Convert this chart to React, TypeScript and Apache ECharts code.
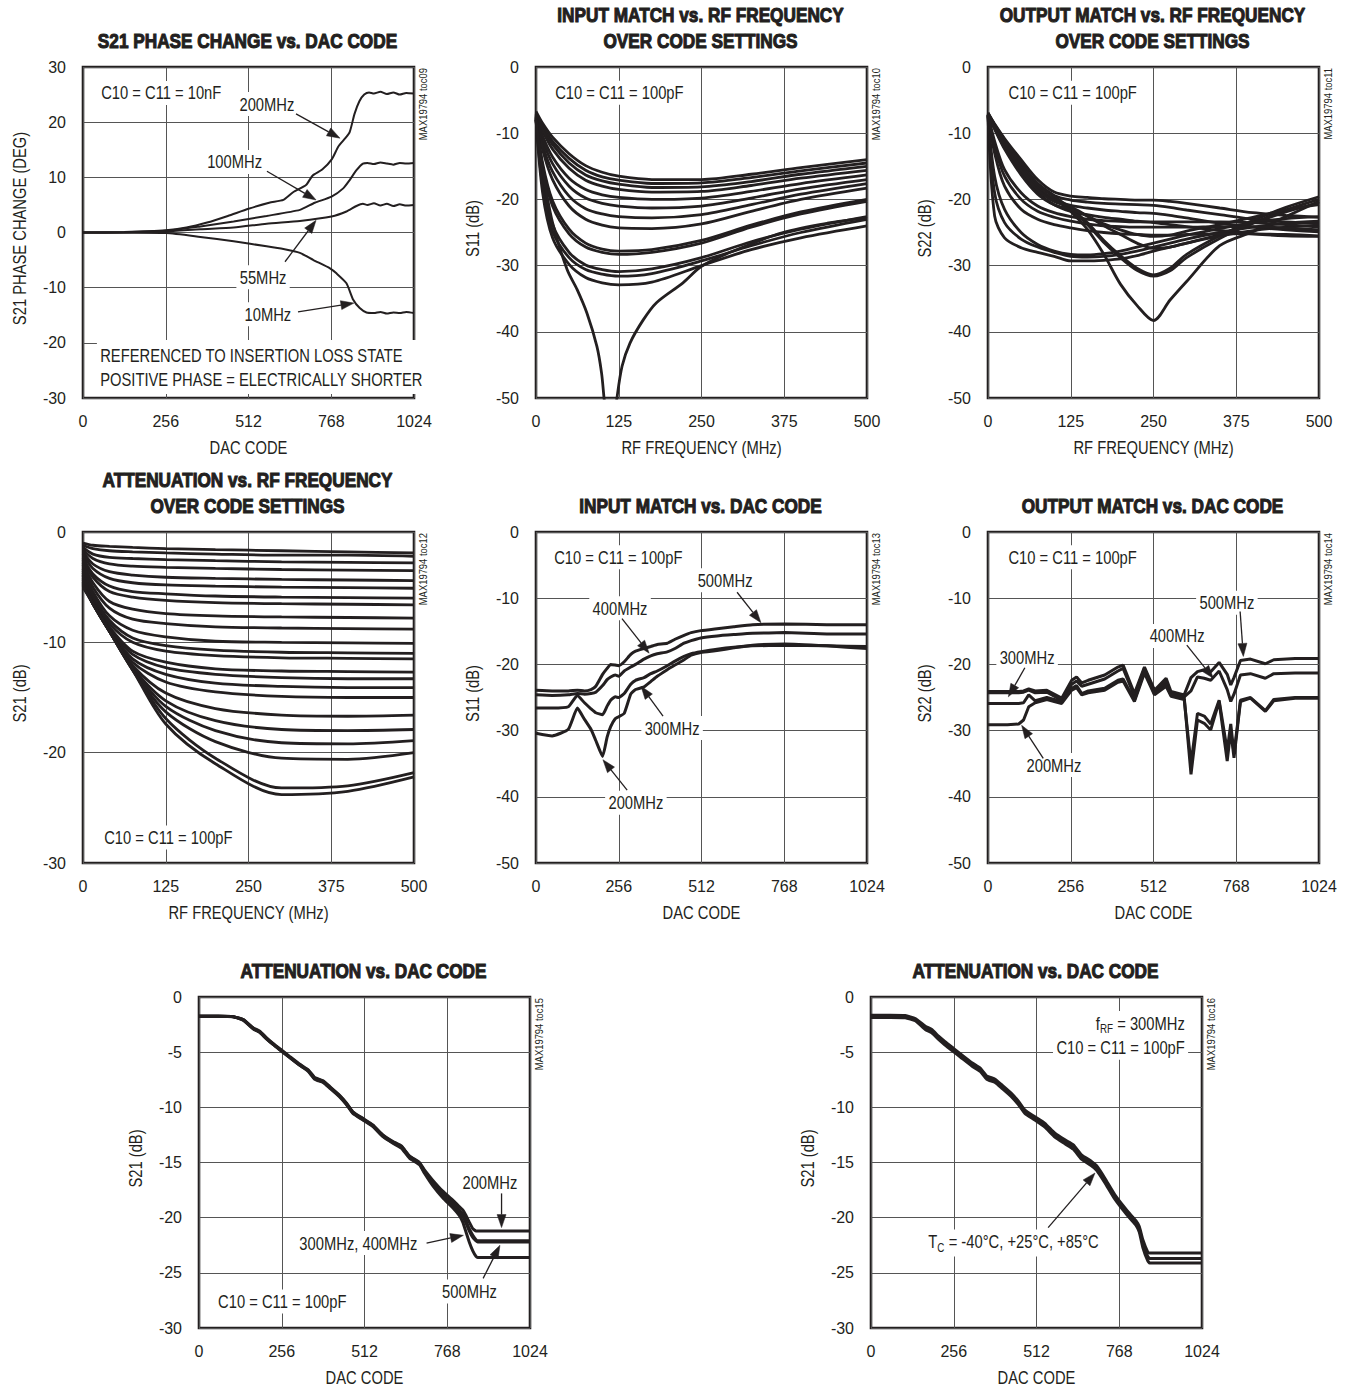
import React, { useEffect, useRef } from "react";
import * as echarts from "echarts";

const INK = "#231f20";
const GRIDLINE = "#555555";
const FONT = "'Liberation Sans', Arial, Helvetica, sans-serif";
const NARROW = 0.82; // horizontal compression to mimic a condensed face

// ---------------- Panel 1: S21 phase change vs DAC code ----------------
const P1_X_200 = [0, 128, 256, 320, 384, 448, 512, 576, 620, 650, 690, 710, 740, 770, 790, 810, 825, 840, 855, 870, 885, 900, 920, 940, 960, 980, 1000, 1024];
const P1_Y_200 = [0, 0.1, 0.4, 0.9, 1.8, 3.0, 4.3, 5.4, 5.9, 7.3, 8.6, 10.3, 11.4, 13.3, 15.6, 17.0, 18.2, 21.5, 23.8, 25.0, 25.4, 25.2, 25.5, 25.1, 25.4, 25.0, 25.3, 25.2];
const P1_X_100 = [0, 128, 256, 363, 466, 568, 671, 717, 769, 805, 825, 846, 866, 880, 900, 920, 940, 960, 980, 1000, 1024];
const P1_Y_100 = [0, 0.05, 0.3, 1.1, 2.0, 3.0, 4.1, 5.4, 6.5, 8.0, 9.5, 11.3, 12.5, 12.6, 12.4, 12.7, 12.5, 12.3, 12.6, 12.5, 12.6];
const P1_X_55 = [0, 128, 256, 363, 466, 568, 671, 769, 815, 846, 866, 880, 900, 920, 940, 960, 980, 1000, 1024];
const P1_Y_55 = [0, 0.05, 0.2, 0.6, 0.9, 1.6, 2.1, 2.9, 3.8, 4.8, 5.2, 5.0, 5.3, 4.9, 5.2, 4.8, 5.1, 4.9, 5.0];
const P1_X_10 = [0, 128, 257, 363, 466, 568, 620, 671, 713, 764, 784, 815, 836, 856, 877, 900, 920, 940, 960, 980, 1000, 1024];
const P1_Y_10 = [0, -0.05, -0.1, -0.8, -1.6, -2.5, -3.0, -3.7, -5.0, -6.5, -7.4, -9.2, -12.2, -13.7, -14.5, -14.6, -14.4, -14.7, -14.5, -14.6, -14.4, -14.6];

// ---------------- Panel 2: S11 vs RF frequency ----------------
const P2_F = [0, 10, 25, 50, 75, 100, 125, 175, 250, 325, 400, 500];
const P2_C1 = [-6.7, -8.5, -10.6, -13.1, -14.9, -15.9, -16.5, -17.0, -17.0, -16.2, -15.2, -14.0];
const P2_C2 = [-6.9, -8.9, -11.2, -13.8, -15.6, -16.6, -17.1, -17.6, -17.5, -16.7, -15.7, -14.5];
const P2_C3 = [-7.0, -9.2, -11.7, -14.5, -16.3, -17.2, -17.7, -18.2, -18.1, -17.3, -16.2, -15.0];
const P2_C4 = [-7.1, -9.6, -12.4, -15.3, -17.1, -18.0, -18.5, -18.9, -18.8, -17.9, -16.8, -15.6];
const P2_C5 = [-7.2, -10.4, -13.6, -16.8, -18.5, -19.3, -19.7, -20.0, -19.8, -18.8, -17.6, -16.3];
const P2_C6 = [-7.3, -11.0, -14.6, -18.0, -19.8, -20.6, -21.0, -21.3, -21.0, -19.8, -18.4, -17.0];
const P2_C7 = [-7.4, -11.8, -15.8, -19.5, -21.4, -22.2, -22.6, -22.8, -22.3, -20.8, -19.2, -17.6];
const P2_C8 = [-7.5, -12.5, -17.0, -21.0, -23.0, -23.9, -24.3, -24.4, -23.7, -21.8, -20.0, -18.3];
const P2_C9 = [-7.6, -14.5, -20.2, -24.5, -26.6, -27.5, -27.8, -27.6, -26.2, -23.9, -21.9, -20.0];
const P2_C10 = [-7.7, -15.0, -21.0, -25.2, -27.2, -28.0, -28.3, -28.0, -26.6, -24.2, -22.2, -20.3];
const P2_C11 = [-7.8, -17.0, -23.8, -28.0, -29.9, -30.6, -30.9, -30.5, -28.8, -26.4, -24.5, -22.6];
const P2_C12 = [-7.9, -18.0, -24.8, -28.8, -30.6, -31.3, -31.6, -31.2, -29.3, -27.0, -25.0, -23.0];
const P2_C13 = [-8.0, -19.0, -25.8, -29.8, -31.8, -32.6, -32.9, -32.5, -30.0, -27.6, -25.8, -24.0];
const P2_NOTCH_F = [0, 10, 25, 47, 62, 77, 92, 99, 103, 112, 122, 130, 142, 162, 182, 222, 250, 298, 373, 440, 500];
const P2_NOTCH = [-8.0, -15.5, -23.5, -30.6, -33.6, -37.2, -42.2, -46.2, -50.2, -58.0, -50.2, -45.2, -41.7, -38.2, -35.6, -32.6, -30.1, -27.8, -25.0, -23.6, -22.8];

// ---------------- Panel 3: S22 vs RF frequency ----------------
const P3_F = [0, 10, 25, 50, 75, 100, 125, 150, 175, 200, 225, 250, 275, 300, 350, 400, 450, 500];
const P3_A1 = [-7.0, -8.6, -10.8, -14.0, -17.0, -18.9, -19.5, -19.7, -19.9, -20.0, -20.1, -20.1, -20.3, -20.6, -21.3, -22.0, -22.4, -22.7];
const P3_A2 = [-7.1, -8.8, -11.2, -14.6, -17.6, -19.4, -20.1, -20.4, -20.6, -20.7, -20.8, -20.9, -21.2, -21.6, -22.3, -23.0, -23.4, -23.6];
const P3_A3 = [-7.2, -9.0, -11.6, -15.2, -18.2, -20.0, -20.9, -21.3, -21.6, -21.8, -22.0, -22.1, -22.4, -22.8, -23.6, -24.2, -24.6, -24.9];
const P3_A4 = [-7.3, -9.3, -12.2, -16.0, -19.0, -20.8, -21.8, -22.3, -22.7, -23.0, -23.3, -23.5, -23.8, -24.1, -24.7, -25.2, -25.5, -25.6];
const P3_B1 = [-6.9, -8.7, -11.0, -14.5, -17.6, -19.5, -21.8, -24.5, -28.3, -32.8, -36.0, -38.3, -35.2, -32.4, -27.0, -24.9, -22.6, -20.3];
const P3_B2 = [-7.0, -8.8, -11.3, -14.8, -17.8, -19.6, -21.3, -23.5, -26.2, -28.5, -30.4, -31.4, -30.4, -28.3, -25.5, -23.2, -21.2, -19.6];
const P3_B3 = [-7.1, -9.0, -11.6, -15.2, -18.2, -20.0, -21.6, -23.8, -26.5, -28.8, -30.7, -31.6, -30.8, -28.8, -25.9, -23.6, -21.6, -20.0];
const P3_B4 = [-7.1, -9.1, -11.9, -15.6, -18.6, -20.3, -21.1, -22.5, -24.0, -25.3, -26.6, -27.4, -27.2, -26.6, -25.3, -23.6, -21.9, -20.5];
const P3_B5 = [-7.2, -9.4, -12.4, -16.3, -19.2, -20.8, -21.5, -22.5, -23.7, -24.6, -25.3, -25.6, -25.4, -24.8, -23.8, -22.7, -21.6, -20.8];
const P3_C1 = [-7.5, -22.5, -25.8, -27.3, -28.0, -28.6, -29.3, -29.3, -29.2, -29.0, -28.5, -27.8, -27.2, -26.6, -25.5, -24.7, -24.2, -23.9];
const P3_C2 = [-7.4, -19.0, -23.5, -26.0, -27.2, -28.0, -28.6, -28.7, -28.6, -28.3, -27.8, -27.2, -26.6, -26.0, -25.0, -24.2, -23.6, -23.3];
const P3_C3 = [-7.3, -16.5, -21.5, -25.0, -26.8, -27.8, -28.3, -28.4, -28.2, -27.8, -27.2, -26.6, -26.0, -25.4, -24.4, -23.5, -22.9, -22.6];
const P3_M1 = [-7.3, -13.0, -18.0, -21.5, -23.0, -23.8, -24.3, -24.7, -25.0, -25.2, -25.3, -25.4, -25.4, -25.3, -25.2, -25.2, -25.3, -25.5];
const P3_M2 = [-7.2, -12.0, -16.5, -20.0, -21.8, -22.7, -23.3, -23.7, -24.0, -24.1, -24.2, -24.2, -24.2, -24.2, -24.1, -24.1, -24.3, -24.6];
const P3_M3 = [-7.2, -11.2, -15.5, -19.0, -21.0, -22.0, -22.6, -23.0, -23.2, -23.3, -23.4, -23.4, -23.4, -23.4, -23.4, -23.5, -23.8, -24.2];

// ---------------- Panel 4: S21 vs RF frequency over code ----------------
const P4_F = [0, 15, 40, 75, 125, 200, 300, 400, 500];
const P4_A1 = [-1.0, -1.2, -1.3, -1.4, -1.5, -1.6, -1.7, -1.8, -1.9];
const P4_A2 = [-1.2, -1.5, -1.7, -1.8, -1.9, -2.0, -2.1, -2.1, -2.2];
const P4_A3 = [-1.4, -2.0, -2.3, -2.4, -2.5, -2.6, -2.7, -2.75, -2.8];
const P4_A4 = [-1.6, -2.4, -2.9, -3.1, -3.2, -3.3, -3.4, -3.45, -3.5];
const P4_A5 = [-1.8, -2.9, -3.6, -3.9, -4.1, -4.2, -4.3, -4.35, -4.4];
const P4_A6 = [-2.0, -3.3, -4.2, -4.6, -4.8, -4.9, -5.0, -5.05, -5.1];
const P4_A7 = [-2.3, -3.8, -4.9, -5.4, -5.6, -5.8, -5.9, -5.95, -6.0];
const P4_A8 = [-2.5, -4.1, -5.4, -5.9, -6.2, -6.4, -6.5, -6.55, -6.6];
const P4_A9 = [-2.8, -4.6, -6.3, -7.0, -7.4, -7.6, -7.7, -7.75, -7.8];
const P4_A10 = [-3.0, -5.0, -6.9, -7.9, -8.3, -8.6, -8.7, -8.75, -8.8];
const P4_A11 = [-3.3, -5.4, -7.6, -8.9, -9.5, -9.9, -10.0, -10.05, -10.1];
const P4_A12 = [-3.5, -5.7, -8.0, -9.6, -10.3, -10.7, -10.9, -10.95, -11.0];
const P4_A13 = [-3.7, -5.9, -8.3, -10.0, -10.8, -11.2, -11.4, -11.45, -11.5];
const P4_A14 = [-3.9, -6.1, -8.6, -10.8, -11.8, -12.4, -12.6, -12.65, -12.7];
const P4_A15 = [-4.0, -6.2, -8.7, -11.1, -12.3, -12.9, -13.2, -13.3, -13.3];
const P4_A16 = [-4.2, -6.3, -8.8, -11.5, -12.9, -13.7, -14.0, -14.1, -14.1];
const P4_A17 = [-4.3, -6.4, -8.9, -11.8, -13.6, -14.5, -14.9, -15.0, -15.0];
const P4_A18 = [-4.5, -6.5, -9.0, -12.1, -14.6, -16.0, -16.6, -16.7, -16.6];
const P4_A19 = [-4.6, -6.5, -9.0, -12.3, -15.3, -17.1, -17.9, -18.0, -17.9];
const P4_A20 = [-4.7, -6.5, -9.0, -12.4, -15.8, -18.0, -19.1, -19.2, -18.9];
const P4_A21 = [-4.8, -6.5, -9.0, -12.5, -16.3, -19.0, -20.5, -20.6, -20.0];
const P4_A22 = [-4.9, -6.5, -9.0, -12.5, -16.9, -20.5, -23.2, -23.0, -21.8];
const P4_A23 = [-5.0, -6.5, -9.0, -12.5, -17.4, -21.0, -23.8, -23.5, -22.2];

// ---------------- Panel 5: S11 vs DAC code ----------------
const P5_CODE = [0, 50, 100, 128, 150, 170, 185, 206, 220, 231, 245, 256, 273, 293, 308, 334, 355, 375, 406, 430, 458, 480, 510, 560, 612, 670, 770, 900, 1024];
const P5_500 = [-23.9, -24.0, -24.0, -23.9, -24.0, -23.8, -23.3, -21.5, -20.6, -20.0, -20.1, -20.2, -19.6, -18.5, -18.0, -17.6, -17.3, -17.0, -16.8, -16.2, -15.6, -15.2, -14.9, -14.6, -14.3, -14.0, -13.9, -14.0, -14.0];
const P5_400 = [-24.6, -24.7, -24.6, -24.4, -24.5, -24.4, -24.2, -23.2, -22.3, -21.9, -21.6, -21.8, -21.0, -20.4, -20.0, -19.2, -18.7, -18.4, -18.1, -17.6, -16.8, -16.4, -16.0, -15.7, -15.5, -15.3, -15.2, -15.4, -15.4];
const P5_300 = [-26.6, -26.6, -26.4, -24.7, -25.8, -26.7, -27.3, -27.6, -26.3, -25.4, -24.9, -25.0, -24.4, -23.0, -22.4, -22.0, -21.4, -21.0, -20.2, -19.5, -18.8, -18.4, -18.1, -17.7, -17.4, -17.2, -17.1, -17.2, -17.3];
const P5_200 = [-30.4, -30.8, -29.8, -26.6, -28.3, -29.8, -31.5, -33.9, -31.0, -29.4, -28.2, -27.9, -27.4, -24.5, -23.8, -23.4, -22.6, -21.8, -20.8, -20.1, -19.3, -18.6, -18.2, -17.9, -17.5, -17.1, -16.9, -17.2, -17.6];

// ---------------- Panel 6: S22 vs DAC code ----------------
const P6_CODE = [0, 60, 95, 110, 126, 146, 182, 228, 259, 274, 290, 310, 361, 402, 418, 453, 484, 515, 551, 566, 607, 628, 648, 669, 689, 715, 740, 751, 761, 781, 812, 858, 884, 950, 1024];
const P6_500 = [-24.1, -24.1, -24.1, -24.0, -23.7, -24.0, -23.9, -25.1, -22.4, -21.9, -22.8, -22.4, -21.6, -20.4, -20.1, -24.4, -20.4, -23.9, -22.1, -24.1, -24.6, -22.0, -21.1, -20.8, -21.1, -19.7, -21.5, -23.1, -22.0, -19.4, -19.2, -19.9, -19.3, -19.1, -19.1];
const P6_400 = [-24.3, -24.3, -24.3, -24.2, -23.9, -24.3, -24.2, -25.4, -23.0, -22.5, -23.3, -23.0, -22.2, -21.0, -20.6, -24.8, -20.6, -24.2, -22.6, -24.4, -24.9, -24.0, -21.9, -22.1, -22.4, -21.0, -23.8, -25.6, -24.5, -21.6, -21.4, -22.1, -21.4, -21.3, -21.3];
const P6_300 = [-25.9, -25.9, -25.9, -25.8, -24.6, -25.5, -25.0, -25.6, -23.6, -23.2, -24.4, -24.0, -23.6, -22.4, -22.2, -25.4, -21.0, -24.4, -23.0, -24.6, -25.0, -36.6, -28.4, -28.9, -29.9, -25.6, -34.6, -30.0, -34.1, -25.6, -25.1, -27.1, -25.5, -25.1, -25.1];
const P6_200 = [-29.1, -29.1, -29.0, -28.4, -26.4, -25.8, -25.3, -25.9, -23.9, -23.5, -24.6, -24.3, -23.9, -22.7, -22.5, -25.6, -21.3, -24.6, -23.3, -24.8, -25.3, -35.0, -27.4, -27.8, -29.0, -25.4, -33.0, -29.0, -33.5, -25.4, -25.0, -27.0, -25.3, -25.0, -25.0];

// ---------------- Panel 7: S21 vs DAC code (frequency) ----------------
const P7_CODE = [0, 60, 106, 137, 168, 188, 209, 229, 255, 281, 312, 338, 358, 384, 404, 435, 456, 476, 507, 538, 569, 600, 626, 651, 682, 698, 723, 754, 785, 805, 816, 826, 836, 847, 857, 862, 880, 920, 960, 1000, 1024];
const P7_200 = [-1.75, -1.75, -1.78, -2.05, -2.8, -3.1, -3.7, -4.2, -4.8, -5.4, -6.1, -6.6, -7.3, -7.6, -8.1, -8.9, -9.6, -10.4, -11.0, -11.6, -12.5, -13.1, -13.5, -14.4, -15.0, -15.7, -16.6, -17.6, -18.4, -19.0, -19.3, -19.8, -20.4, -21.0, -21.2, -21.2, -21.2, -21.2, -21.2, -21.2, -21.2];
const P7_300 = [-1.75, -1.75, -1.78, -2.05, -2.85, -3.15, -3.75, -4.25, -4.85, -5.45, -6.15, -6.65, -7.35, -7.65, -8.15, -8.95, -9.65, -10.45, -11.05, -11.65, -12.55, -13.15, -13.55, -14.45, -15.05, -15.8, -16.8, -17.8, -18.6, -19.3, -19.7, -20.3, -21.0, -21.6, -22.0, -22.1, -22.1, -22.1, -22.1, -22.1, -22.1];
const P7_400 = [-1.75, -1.75, -1.78, -2.1, -2.85, -3.2, -3.8, -4.3, -4.9, -5.5, -6.2, -6.7, -7.4, -7.7, -8.2, -9.0, -9.7, -10.5, -11.1, -11.7, -12.6, -13.2, -13.6, -14.5, -15.1, -15.9, -16.9, -17.9, -18.8, -19.5, -19.9, -20.5, -21.2, -21.8, -22.1, -22.2, -22.2, -22.2, -22.2, -22.2, -22.2];
const P7_500 = [-1.75, -1.75, -1.8, -2.1, -2.9, -3.2, -3.8, -4.3, -4.9, -5.5, -6.2, -6.75, -7.45, -7.75, -8.25, -9.05, -9.75, -10.55, -11.15, -11.75, -12.65, -13.25, -13.7, -14.6, -15.2, -16.0, -17.1, -18.2, -19.1, -19.8, -20.4, -21.3, -22.2, -23.0, -23.5, -23.6, -23.6, -23.6, -23.6, -23.6, -23.6];

// ---------------- Panel 8: S21 vs DAC code (temperature) ----------------
const P8_CODE = [0, 60, 106, 137, 168, 188, 209, 229, 255, 281, 312, 338, 358, 384, 404, 435, 456, 476, 507, 538, 569, 600, 626, 651, 682, 698, 723, 754, 785, 805, 820, 830, 841, 856, 862, 880, 920, 960, 1000, 1024];
const P8_M40 = [-1.65, -1.65, -1.68, -1.95, -2.65, -2.95, -3.55, -4.05, -4.65, -5.25, -5.95, -6.45, -7.15, -7.45, -7.95, -8.75, -9.45, -10.25, -10.85, -11.45, -12.35, -12.95, -13.4, -14.3, -14.9, -15.3, -16.4, -17.9, -19.1, -19.8, -20.3, -20.8, -22.0, -23.1, -23.2, -23.2, -23.2, -23.2, -23.2, -23.2];
const P8_25 = [-1.75, -1.75, -1.78, -2.05, -2.8, -3.1, -3.7, -4.2, -4.8, -5.4, -6.1, -6.6, -7.3, -7.6, -8.1, -8.9, -9.6, -10.4, -11.0, -11.6, -12.5, -13.1, -13.6, -14.5, -15.1, -15.5, -16.6, -18.1, -19.3, -20.0, -20.5, -21.0, -22.3, -23.5, -23.7, -23.7, -23.7, -23.7, -23.7, -23.7];
const P8_85 = [-1.85, -1.85, -1.88, -2.15, -2.95, -3.25, -3.85, -4.35, -4.95, -5.55, -6.25, -6.75, -7.45, -7.75, -8.25, -9.05, -9.75, -10.55, -11.15, -11.8, -12.7, -13.3, -13.8, -14.7, -15.3, -15.7, -16.8, -18.3, -19.5, -20.2, -20.7, -21.3, -22.7, -23.9, -24.1, -24.1, -24.1, -24.1, -24.1, -24.1];

// ---------------- Layout ----------------
const GRIDS = [
  { left: 83, top: 67, width: 331, height: 331 },
  { left: 536, top: 67, width: 331, height: 331 },
  { left: 988, top: 67, width: 331, height: 331 },
  { left: 83, top: 532, width: 331, height: 331 },
  { left: 536, top: 532, width: 331, height: 331 },
  { left: 988, top: 532, width: 331, height: 331 },
  { left: 199, top: 997, width: 331, height: 331 },
  { left: 871, top: 997, width: 331, height: 331 },
];

const X_DAC = { min: 0, max: 1024, interval: 256 };
const X_RF = { min: 0, max: 500, interval: 125 };

const PANELS = [
  { x: X_DAC, y: { min: -30, max: 30, interval: 10 }, xName: "DAC CODE", yName: "S21 PHASE CHANGE (DEG)", title: ["S21 PHASE CHANGE vs. DAC CODE"], toc: "MAX19794 toc09" },
  { x: X_RF, y: { min: -50, max: 0, interval: 10 }, xName: "RF FREQUENCY (MHz)", yName: "S11 (dB)", title: ["INPUT MATCH vs. RF FREQUENCY", "OVER CODE SETTINGS"], toc: "MAX19794 toc10" },
  { x: X_RF, y: { min: -50, max: 0, interval: 10 }, xName: "RF FREQUENCY (MHz)", yName: "S22 (dB)", title: ["OUTPUT MATCH vs. RF FREQUENCY", "OVER CODE SETTINGS"], toc: "MAX19794 toc11" },
  { x: X_RF, y: { min: -30, max: 0, interval: 10 }, xName: "RF FREQUENCY (MHz)", yName: "S21 (dB)", title: ["ATTENUATION vs. RF FREQUENCY", "OVER CODE SETTINGS"], toc: "MAX19794 toc12" },
  { x: X_DAC, y: { min: -50, max: 0, interval: 10 }, xName: "DAC CODE", yName: "S11 (dB)", title: ["INPUT MATCH vs. DAC CODE"], toc: "MAX19794 toc13" },
  { x: X_DAC, y: { min: -50, max: 0, interval: 10 }, xName: "DAC CODE", yName: "S22 (dB)", title: ["OUTPUT MATCH vs. DAC CODE"], toc: "MAX19794 toc14" },
  { x: X_DAC, y: { min: -30, max: 0, interval: 5 }, xName: "DAC CODE", yName: "S21 (dB)", title: ["ATTENUATION vs. DAC CODE"], toc: "MAX19794 toc15" },
  { x: X_DAC, y: { min: -30, max: 0, interval: 5 }, xName: "DAC CODE", yName: "S21 (dB)", title: ["ATTENUATION vs. DAC CODE"], toc: "MAX19794 toc16" },
];

const LINE_W = [2, 2.8, 2.8, 2.8, 3, 3, 3, 3];
const SMOOTH = [0.2, 0.3, 0.3, 0.3, 0.15, 0, 0.15, 0.15];

type SDef = { g: number; name: string; xs: number[]; ys: number[] };
const SERIES: SDef[] = [
  { g: 0, name: "200MHz", xs: P1_X_200, ys: P1_Y_200 },
  { g: 0, name: "100MHz", xs: P1_X_100, ys: P1_Y_100 },
  { g: 0, name: "55MHz", xs: P1_X_55, ys: P1_Y_55 },
  { g: 0, name: "10MHz", xs: P1_X_10, ys: P1_Y_10 },
  ...[P2_C1, P2_C2, P2_C3, P2_C4, P2_C5, P2_C6, P2_C7, P2_C8, P2_C9, P2_C10, P2_C11, P2_C12, P2_C13].map((ys, i) => ({ g: 1, name: "S11 code " + (i + 1), xs: P2_F, ys })),
  { g: 1, name: "S11 code 14", xs: P2_NOTCH_F, ys: P2_NOTCH },
  ...[P3_A1, P3_A2, P3_A3, P3_A4, P3_B1, P3_B2, P3_B3, P3_B4, P3_B5, P3_C1, P3_C2, P3_C3, P3_M1, P3_M2, P3_M3].map((ys, i) => ({ g: 2, name: "S22 code " + (i + 1), xs: P3_F, ys })),
  ...[P4_A1, P4_A2, P4_A3, P4_A4, P4_A5, P4_A6, P4_A7, P4_A8, P4_A9, P4_A10, P4_A11, P4_A12, P4_A13, P4_A14, P4_A15, P4_A16, P4_A17, P4_A18, P4_A19, P4_A20, P4_A21, P4_A22, P4_A23].map((ys, i) => ({ g: 3, name: "S21 code " + (i + 1), xs: P4_F, ys })),
  { g: 4, name: "500MHz", xs: P5_CODE, ys: P5_500 },
  { g: 4, name: "400MHz", xs: P5_CODE, ys: P5_400 },
  { g: 4, name: "300MHz", xs: P5_CODE, ys: P5_300 },
  { g: 4, name: "200MHz", xs: P5_CODE, ys: P5_200 },
  { g: 5, name: "500MHz", xs: P6_CODE, ys: P6_500 },
  { g: 5, name: "400MHz", xs: P6_CODE, ys: P6_400 },
  { g: 5, name: "300MHz", xs: P6_CODE, ys: P6_300 },
  { g: 5, name: "200MHz", xs: P6_CODE, ys: P6_200 },
  { g: 6, name: "200MHz", xs: P7_CODE, ys: P7_200 },
  { g: 6, name: "300MHz", xs: P7_CODE, ys: P7_300 },
  { g: 6, name: "400MHz", xs: P7_CODE, ys: P7_400 },
  { g: 6, name: "500MHz", xs: P7_CODE, ys: P7_500 },
  { g: 7, name: "-40°C", xs: P8_CODE, ys: P8_M40 },
  { g: 7, name: "+25°C", xs: P8_CODE, ys: P8_25 },
  { g: 7, name: "+85°C", xs: P8_CODE, ys: P8_85 },
];

// Annotations in data coordinates of each panel
type Note = { g: number; x: number; y: number; text: string; align?: "left" | "center" | "right"; rich?: boolean; lh?: number };
const NOTES: Note[] = [
  { g: 0, x: 46, y: 25.3, text: "C10 = C11 = 10nF", align: "left" },
  { g: 0, x: 569, y: 23.3, text: "200MHz" },
  { g: 0, x: 469, y: 12.8, text: "100MHz" },
  { g: 0, x: 557, y: -8.1, text: "55MHz" },
  { g: 0, x: 572, y: -14.8, text: "10MHz" },
  { g: 0, x: 43, y: -24.4, text: "REFERENCED TO INSERTION LOSS STATE\nPOSITIVE PHASE = ELECTRICALLY SHORTER", align: "left", lh: 24 },
  { g: 1, x: 24, y: -3.9, text: "C10 = C11 = 100pF", align: "left" },
  { g: 2, x: 26, y: -3.9, text: "C10 = C11 = 100pF", align: "left" },
  { g: 3, x: 27, y: -27.7, text: "C10 = C11 = 100pF", align: "left" },
  { g: 4, x: 46, y: -3.8, text: "C10 = C11 = 100pF", align: "left" },
  { g: 4, x: 585, y: -7.3, text: "500MHz" },
  { g: 4, x: 260, y: -11.5, text: "400MHz" },
  { g: 4, x: 421, y: -29.6, text: "300MHz" },
  { g: 4, x: 309, y: -40.9, text: "200MHz" },
  { g: 5, x: 53, y: -3.8, text: "C10 = C11 = 100pF", align: "left" },
  { g: 5, x: 739, y: -10.7, text: "500MHz" },
  { g: 5, x: 585, y: -15.7, text: "400MHz" },
  { g: 5, x: 121, y: -18.9, text: "300MHz" },
  { g: 5, x: 204, y: -35.2, text: "200MHz" },
  { g: 6, x: 900, y: -16.8, text: "200MHz" },
  { g: 6, x: 493, y: -22.3, text: "300MHz, 400MHz" },
  { g: 6, x: 837, y: -26.7, text: "500MHz" },
  { g: 6, x: 49, y: -27.6, text: "C10 = C11 = 100pF", align: "left" },
  { g: 7, x: 981, y: -2.5, text: "{m|f}{s|RF}{m| = 300MHz}", align: "right", rich: true },
  { g: 7, x: 981, y: -4.6, text: "C10 = C11 = 100pF", align: "right" },
  { g: 7, x: 441, y: -22.3, text: "{m|T}{s|C}{m| = -40°C, +25°C, +85°C}", rich: true },
];

// [panel, fromX, fromY, toX, toY] in data coordinates
const ARROWS: number[][] = [
  [0, 659, 21.5, 795, 17.1],
  [0, 569, 11.1, 721, 5.9],
  [0, 625, -5.3, 721, 2.2],
  [0, 665, -14.4, 838, -12.8],
  [4, 622, -9.1, 696, -13.7],
  [4, 266, -13.1, 350, -18.3],
  [4, 393, -27.8, 325, -23.3],
  [4, 282, -39.0, 207, -34.4],
  [5, 780, -12.0, 790, -18.8],
  [5, 615, -17.1, 697, -22.1],
  [5, 114, -20.5, 63, -24.9],
  [5, 171, -34.2, 104, -29.2],
  [6, 936, -17.8, 936, -20.9],
  [6, 704, -22.3, 818, -21.6],
  [6, 879, -25.5, 931, -22.5],
  [7, 548, -20.9, 693, -15.95],
];

function buildOption(): any {
  const labelStyle = { fontFamily: FONT, fontSize: 16, color: INK, formatter: (v: number) => String(v) };
  return {
    animation: false,
    backgroundColor: "#ffffff",
    grid: GRIDS.map((g) => ({ ...g, show: true, borderColor: INK, borderWidth: 2.6, backgroundColor: "transparent", containLabel: false })),
    xAxis: PANELS.map((p, i) => ({
      type: "value",
      gridIndex: i,
      min: p.x.min,
      max: p.x.max,
      interval: p.x.interval,
      axisLine: { show: false },
      axisTick: { show: false },
      splitLine: { show: true, lineStyle: { color: GRIDLINE, width: 1 } },
      axisLabel: { ...labelStyle, margin: 15 },
    })),
    yAxis: PANELS.map((p, i) => ({
      type: "value",
      gridIndex: i,
      min: p.y.min,
      max: p.y.max,
      interval: p.y.interval,
      axisLine: { show: false },
      axisTick: { show: false },
      splitLine: { show: true, lineStyle: { color: GRIDLINE, width: 1 } },
      axisLabel: { ...labelStyle, margin: 17 },
    })),
    series: SERIES.map((s) => ({
      type: "line",
      name: s.name,
      xAxisIndex: s.g,
      yAxisIndex: s.g,
      data: s.xs.map((x, k) => [x, s.ys[k]]),
      symbol: "none",
      showSymbol: false,
      smooth: SMOOTH[s.g],
      clip: true,
      silent: true,
      lineStyle: { color: INK, width: LINE_W[s.g] },
      emphasis: { disabled: true },
      z: 3,
    })),
  };
}

function buildGraphics(chart: any): any[] {
  const out: any[] = [];
  const base = { fontFamily: FONT, fontSize: 18, fill: INK };
  GRIDS.forEach((g, i) => {
    const p = PANELS[i];
    const cx = g.left + g.width / 2 - 1;
    p.title.forEach((t, k) => {
      const y = g.top - 26 - (p.title.length - 1 - k) * 26;
      out.push({
        type: "text", x: cx, y, scaleX: NARROW, z: 20, silent: true,
        style: { text: t, fontFamily: FONT, fontSize: 21, fontWeight: "bold", fill: INK, stroke: INK, lineWidth: 1.1, align: "center", verticalAlign: "middle" },
      });
    });
    out.push({ type: "text", x: cx + 1, y: g.top + g.height + 49, scaleX: NARROW, z: 20, silent: true, style: { ...base, text: p.xName, align: "center", verticalAlign: "middle" } });
    out.push({ type: "text", x: g.left - 64, y: g.top + g.height / 2 - 4, rotation: Math.PI / 2, scaleX: NARROW, z: 20, silent: true, style: { ...base, text: p.yName, align: "center", verticalAlign: "middle" } });
    out.push({ type: "text", x: g.left + g.width + 9, y: g.top + 1, rotation: Math.PI / 2, scaleX: NARROW, z: 20, silent: true, style: { fontFamily: FONT, fontSize: 11.5, fill: INK, text: p.toc, align: "right", verticalAlign: "middle" } });
  });
  const px = (g: number, x: number, y: number) => chart.convertToPixel({ gridIndex: g }, [x, y]) as number[];
  NOTES.forEach((n) => {
    const [x, y] = px(n.g, n.x, n.y);
    const style: any = {
      ...base,
      text: n.text,
      align: n.align || "center",
      verticalAlign: "middle",
      backgroundColor: "#ffffff",
      padding: [3, 4, 3, 4],
    };
    if (n.lh) style.lineHeight = n.lh;
    if (n.rich) {
      style.rich = {
        m: { fontFamily: FONT, fontSize: 18, fill: INK, padding: [0, 0, 3, 0], verticalAlign: "bottom" },
        s: { fontFamily: FONT, fontSize: 12, fill: INK, verticalAlign: "bottom" },
      };
    }
    out.push({ type: "text", x, y, scaleX: NARROW, z: 30, silent: true, style });
  });
  ARROWS.forEach(([g, x1, y1, x2, y2]) => {
    const [ax, ay] = px(g, x1, y1);
    const [bx, by] = px(g, x2, y2);
    const dx = bx - ax, dy = by - ay;
    const L = Math.hypot(dx, dy) || 1;
    const ux = dx / L, uy = dy / L;
    const hl = 13, hw = 4.5;
    const qx = bx - ux * hl, qy = by - uy * hl;
    out.push({ type: "line", z: 31, silent: true, shape: { x1: ax, y1: ay, x2: qx, y2: qy }, style: { stroke: INK, lineWidth: 1.3 } });
    out.push({
      type: "polygon", z: 31, silent: true,
      shape: { points: [[bx, by], [qx - uy * hw, qy + ux * hw], [qx + uy * hw, qy - ux * hw]] },
      style: { fill: INK, stroke: INK, lineWidth: 0.5 },
    });
  });
  return out;
}

export default function App() {
  const ref = useRef<HTMLDivElement>(null);
  useEffect(() => {
    const el = ref.current;
    if (!el) return;
    const chart = echarts.init(el, null, { renderer: "svg" });
    chart.setOption(buildOption());
    chart.setOption({ graphic: buildGraphics(chart) });
    return () => chart.dispose();
  }, []);
  return <div ref={ref} style={{ position: "absolute", left: 0, top: 0, width: 1348, height: 1386, background: "#ffffff" }} />;
}
